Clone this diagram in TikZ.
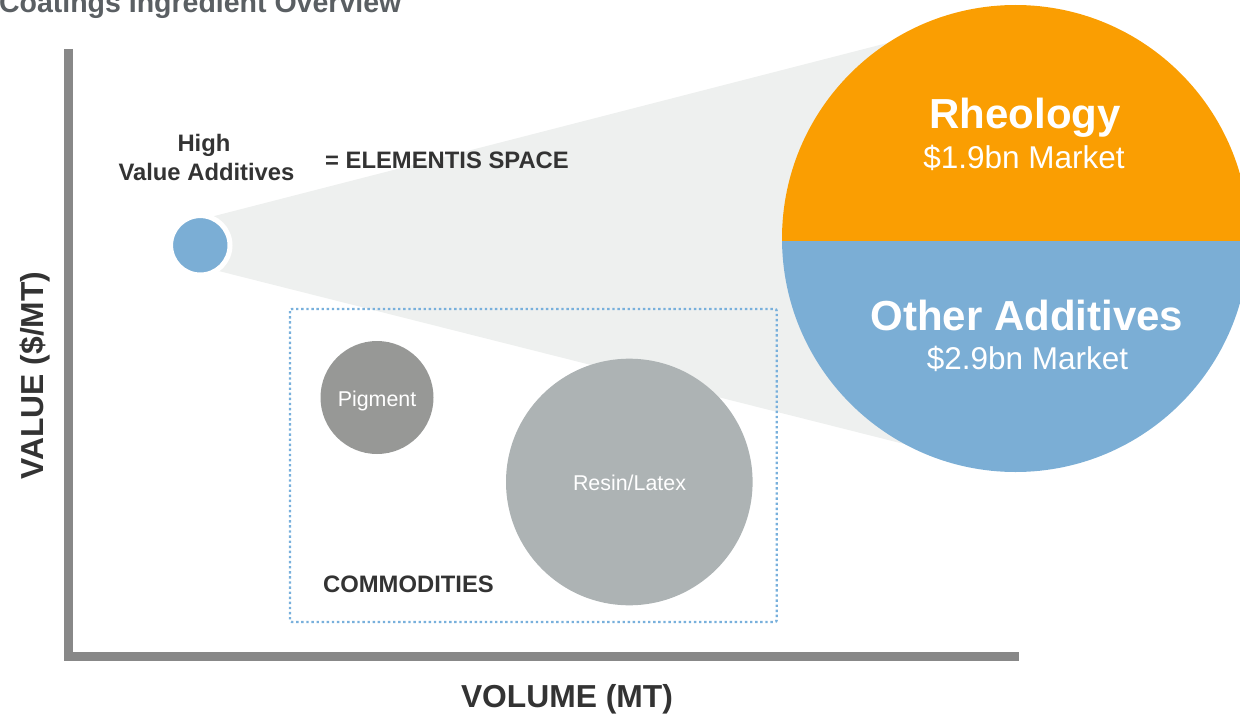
\documentclass[tikz,border=0pt]{standalone}
\usepackage{fontspec}
\setmainfont{Liberation Sans}
\definecolor{axisgray}{RGB}{136,136,136}
\definecolor{fangray}{RGB}{238,240,239}
\definecolor{addblue}{RGB}{123,174,213}
\definecolor{rheoorange}{RGB}{250,158,2}
\definecolor{pigmentgray}{RGB}{151,152,150}
\definecolor{resingray}{RGB}{173,179,180}
\definecolor{textdark}{RGB}{51,51,51}
\definecolor{titlegray}{RGB}{90,95,99}
\definecolor{boxblue}{RGB}{120,176,220}
\begin{document}
\begin{tikzpicture}[x=1pt,y=-1pt,
  axisline/.style={draw=axisgray,line width=8.4pt,line cap=butt,line join=miter},
  darklabel/.style={text=textdark,inner sep=0,font=\bfseries\fontsize{23.8}{28}\selectfont},
  axislabel/.style={text=textdark,inner sep=0,font=\bfseries\fontsize{31.8}{36}\selectfont},
  bubble/.style={circle,inner sep=0,draw=none},
  bubbletext/.style={text=white,inner sep=0,font=\fontsize{21.4}{25}\selectfont},
  headtext/.style={text=white,inner sep=0,font=\bfseries\fontsize{42}{48}\selectfont},
  subtext/.style={text=white,inner sep=0,font=\fontsize{31.5}{36}\selectfont},
  commoditybox/.style={draw=boxblue,line width=2.4pt,dash pattern=on 2.4pt off 2.7pt,rounded corners=2pt}]
\useasboundingbox (0,0) rectangle (1240,717);

% title, partly above the page edge
\node[anchor=base east,inner sep=0,text=titlegray,font=\bfseries\fontsize{28.5}{32}\selectfont]
  (title) at (401.5,13) {Coatings Ingredient Overview};

% key points
\coordinate (hvac) at (200.3,245.3);
\coordinate (mktc) at (1015.5,238.5);

% fan joining the small bubble to the market circle
\coordinate (fanA) at (200,219.7);
\coordinate (fanB) at (1015,10.2);
\coordinate (fanC) at (1015,472);
\coordinate (fanD) at (200,266.3);
\fill[fangray] (fanA) -- (fanB) -- (fanC) -- (fanD) -- cycle;

% axes
\coordinate (ytop) at (68.5,49);
\coordinate (origin) at (68.5,656.3);
\coordinate (xend) at (1019,656.3);
\draw[axisline] (ytop) -- (origin) -- (xend);

% commodities area
\coordinate (boxnw) at (290,309);
\coordinate (boxse) at (776.7,622);
\draw[commoditybox] (boxnw) rectangle (boxse);

% commodity bubbles
\node[bubble,fill=pigmentgray,minimum size=113pt] (pigment) at (377,397.5) {};
\node[bubble,fill=resingray,minimum size=246.6pt] (resin) at (629.3,482) {};
\node[bubbletext,anchor=base] (pigmentlbl) at (377,406) {Pigment};
\node[bubbletext,anchor=base] (resinlbl) at (629.5,490) {Resin/Latex};
\node[darklabel,anchor=base west] (commodities) at (323,592.7) {COMMODITIES};

% high value additives bubble
\node[bubble,fill=addblue,draw=white,line width=5pt,minimum size=59.4pt] (hva) at (hvac) {};
\node[darklabel,anchor=base] (hvaline1) at (204,151.7) {High};
\node[darklabel,anchor=base] (hvaline2) at (206.5,180) {Value Additives};
\node[darklabel,anchor=base west] (space) at (325,168.3) {= ELEMENTIS SPACE};

% market circle split into rheology and other additives
\begin{scope}
  \clip (mktc) circle (233.5);
  \fill[rheoorange] (780,0) rectangle (1260,241);
  \fill[addblue] (780,241) rectangle (1260,480);
\end{scope}
\node[headtext,anchor=base] (rheology) at (1025,128.3) {Rheology};
\node[subtext,anchor=base] (rheologymkt) at (1024,168.3) {\$1.9bn Market};
\node[headtext,anchor=base] (other) at (1027,330) {Other Additives};
\node[subtext,anchor=base] (othermkt) at (1027.5,369.3) {\$2.9bn Market};

% axis titles
\node[axislabel,rotate=90,anchor=base] (ylabel) at (43,375.5) {VALUE (\$/MT)};
\node[axislabel,anchor=base] (xlabel) at (567,707) {VOLUME (MT)};
\end{tikzpicture}
\end{document}
